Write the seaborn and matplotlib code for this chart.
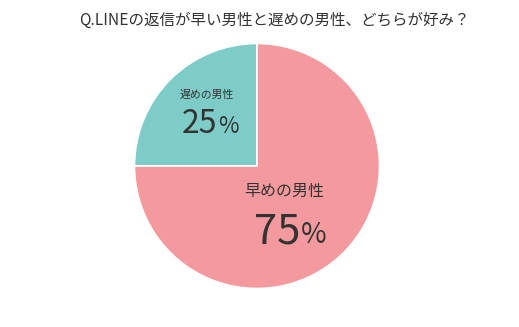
import matplotlib
matplotlib.use("Agg")
import matplotlib.pyplot as plt
import seaborn as sns

title = "Q.LINEの返信が早い男性と遅めの男性、どちらが好み？"
labels = ["遅めの男性", "早めの男性"]
values = [25, 75]
colors = ["#7DCCC7", "#F4999D"]

sns.set_theme(style="white")
plt.rcParams["font.family"] = ["Noto Sans CJK JP", "DejaVu Sans"]

W, H = 519, 327
fig = plt.figure(figsize=(W / 100, H / 100), dpi=100)
ax = fig.add_axes([0, 0, 1, 1])

cx, cy, r = 257, 166, 122.5
# y axis is inverted (pixel coords), so start at -90 and go clockwise in data
ax.pie(values, colors=colors, startangle=-90, counterclock=False,
       center=(cx, cy), radius=r, frame=True,
       wedgeprops=dict(edgecolor="white", linewidth=1.2))
ax.set_xlim(0, W)
ax.set_ylim(H, 0)
ax.set_aspect("equal")
ax.axis("off")

tc = "#333333"
ax.text(274, 20, title, ha="center", va="center", fontsize=11.2, color=tc)

# small slice
ax.text(207, 95, labels[0], ha="center", va="center", fontsize=7.8, color=tc)
ax.text(217, 133, f"{values[0]}", ha="right", va="baseline", fontsize=23, color=tc)
ax.text(218, 133, "%", ha="left", va="baseline", fontsize=16, color=tc)

# big slice
ax.text(284, 191, labels[1], ha="center", va="center", fontsize=11.5, color=tc)
ax.text(300, 243, f"{values[1]}", ha="right", va="baseline", fontsize=30, color=tc)
ax.text(301, 243, "%", ha="left", va="baseline", fontsize=20, color=tc)

fig.savefig("out.png", dpi=100)
